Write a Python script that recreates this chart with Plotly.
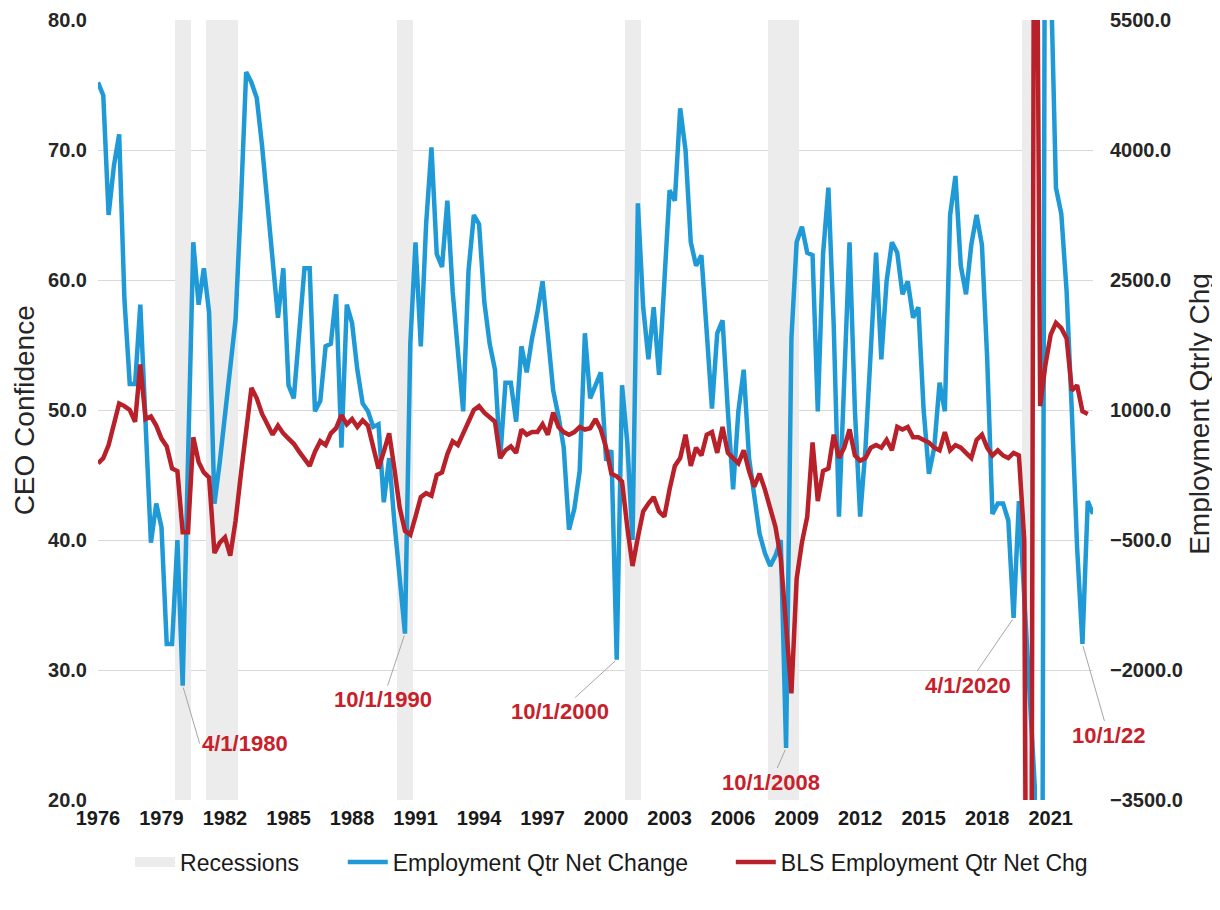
import pandas as pd
import plotly.graph_objects as go

# quarterly observations, first one is 4/1/1976
quarters = pd.date_range("1976-04-01", periods=189, freq="QS")

ceo_confidence = [
    75.2, 74.2, 65.0, 68.8, 71.2, 58.5, 52.0, 52.0, 58.1, 48.0,
    39.8, 42.8, 41.0, 32.0, 32.0, 40.0, 28.8, 46.0, 62.9, 58.1,
    60.9, 57.5, 42.8, 46.0, 49.5, 53.0, 57.0, 66.0, 76.0, 75.2,
    74.0, 70.3, 66.0, 61.5, 57.1, 60.9, 51.9, 50.9, 55.5, 60.9,
    60.9, 49.9, 50.7, 54.9, 55.1, 58.9, 47.1, 58.1, 56.7, 53.1,
    50.5, 49.9, 48.7, 48.9, 42.9, 46.3, 41.4, 37.4, 32.8, 55.1,
    62.9, 54.9, 64.3, 70.2, 62.0, 61.0, 66.1, 59.1, 54.5, 49.9,
    60.7, 65.0, 64.3, 58.3, 55.1, 53.1, 46.3, 52.1, 52.1, 49.1,
    54.9, 52.9, 55.5, 57.5, 59.9, 55.5, 51.5, 49.5, 47.1, 40.8,
    42.4, 45.3, 55.9, 50.9, 51.9, 52.9, 46.1, 46.9, 30.8, 51.9,
    47.5, 40.0, 65.9, 57.9, 53.9, 57.9, 52.7, 59.2, 66.9, 66.1,
    73.2, 70.0, 62.9, 61.1, 61.9, 56.0, 50.1, 55.9, 56.9, 49.9,
    43.9, 49.9, 53.1, 46.3, 43.7, 40.5, 39.0, 38.0, 38.8, 40.0,
    24.0, 55.5, 62.9, 64.1, 62.1, 61.9, 49.9, 62.0, 67.1, 56.5,
    41.8, 53.0, 62.9, 50.0, 41.8, 47.0, 55.0, 62.1, 53.9, 59.9,
    62.9, 62.1, 58.9, 59.9, 57.1, 57.9, 50.0, 45.1, 47.1, 52.1,
    49.9, 65.0, 68.0, 61.1, 58.9, 62.7, 65.0, 62.7, 54.0, 42.0,
    42.8, 42.8, 41.5, 34.0, 43.0, 36.0, 29.0, 21.0, -60.0, 110.0,
    84.0, 67.1, 65.1, 59.1, 49.9, 39.4, 32.0, 43.0, 42.0,
]

bls_net_chg = [
    385, 445, 595, 850, 1075, 1045, 1000, 865, 1525, 895,
    925, 820, 670, 580, 325, 295, -410, -410, 685, 400,
    280, 220, -650, -530, -470, -680, -275, 265, 745, 1255,
    1135, 955, 835, 715, 820, 730, 670, 610, 520, 430,
    355, 520, 640, 595, 730, 790, 940, 835, 895, 805,
    880, 820, 565, 325, 520, 730, 325, -125, -395, -440,
    -230, -5, 40, 10, 250, 280, 490, 640, 595, 745,
    865, 1000, 1045, 970, 925, 865, 445, 535, 580, 505,
    775, 715, 745, 745, 835, 715, 970, 805, 745, 715,
    745, 805, 775, 790, 895, 775, 565, 265, 235, 175,
    -350, -800, -470, -170, -80, -5, -170, -230, 85, 355,
    445, 715, 355, 565, 475, 715, 745, 505, 805, 505,
    445, 385, 535, 295, 115, 265, 85, -125, -350, -710,
    -1490, -2270, -950, -530, -230, 625, -50, 295, 325, 715,
    445, 565, 775, 475, 415, 445, 565, 595, 565, 655,
    535, 805, 775, 805, 685, 685, 655, 625, 565, 535,
    745, 535, 595, 565, 505, 445, 655, 715, 565, 475,
    535, 475, 445, 505, 475, -500, -14000, 11000, 1045, 1525,
    1870, 2005, 1945, 1825, 1225, 1285, 985, 955,
]

recession_quarters = [
    "1980-01-01", "1980-04-01", "1980-07-01",
    "1981-07-01", "1981-10-01", "1982-01-01", "1982-04-01", "1982-07-01", "1982-10-01",
    "1990-07-01", "1990-10-01", "1991-01-01",
    "2001-04-01", "2001-07-01", "2001-10-01",
    "2008-01-01", "2008-04-01", "2008-07-01", "2008-10-01", "2009-01-01", "2009-04-01",
    "2020-01-01", "2020-04-01",
]

# callouts: (date of the point, CEO confidence value, label, text offset px, text anchor)
callouts = [
    ("1980-04-01", 28.8, "4/1/1980", 17, 58, "left"),
    ("1990-10-01", 32.8, "10/1/1990", -22, 66, "center"),
    ("2000-10-01", 30.8, "10/1/2000", -57, 52, "center"),
    ("2008-10-01", 24.0, "10/1/2008", -15, 34, "center"),
    ("2019-07-01", 34.0, "4/1/2020", -46, 67, "center"),
    ("2022-10-01", 32.0, "10/1/22", 26, 91, "center"),
]

tick_dates = quarters[::12][:16]
tick_text = [str(d.year) for d in tick_dates]

BLUE = "#1f9ad6"
RED = "#b8202a"
GREY = "#ececec"
ARIAL = "Liberation Sans, Arial, sans-serif"

fig = go.Figure()

fig.add_trace(go.Bar(
    x=recession_quarters,
    y=[60] * len(recession_quarters),
    base=20,
    width=92 * 86400000,
    marker=dict(color=GREY, line=dict(width=0)),
    name="Recessions",
    yaxis="y",
    showlegend=False,
))

# legend key only: a wide grey patch like the spreadsheet's swatch
fig.add_trace(go.Scatter(
    x=[None], y=[None],
    mode="lines",
    line=dict(color=GREY, width=20),
    name="Recessions",
    legend="legend",
))

fig.add_trace(go.Scatter(
    x=quarters[:len(ceo_confidence)],
    y=ceo_confidence,
    mode="lines",
    line=dict(color=BLUE, width=4.5),
    name="Employment Qtr Net Change",
    yaxis="y",
    legend="legend2",
))

fig.add_trace(go.Scatter(
    x=quarters[:len(bls_net_chg)],
    y=bls_net_chg,
    mode="lines",
    line=dict(color=RED, width=4.5),
    name="BLS Employment Qtr Net Chg",
    yaxis="y2",
    legend="legend3",
))

for d, v, label, ax, ay, anchor in callouts:
    fig.add_annotation(
        x=d, y=v, xref="x", yref="y",
        text=label, showarrow=True, arrowhead=0, arrowwidth=1,
        arrowcolor="#a6a6a6", ax=ax, ay=ay, standoff=2, xanchor=anchor,
        font=dict(family=ARIAL, size=22, color="#c8202a", weight="bold"),
    )

fig.add_annotation(
    text="CEO Confidence", xref="paper", yref="paper", x=-0.074, y=0.5,
    xanchor="center", yanchor="middle",
    textangle=-90, showarrow=False,
    font=dict(family=ARIAL, size=28, color="#262626"),
)
fig.add_annotation(
    text="Employment Qtrly Chg", xref="paper", yref="paper", x=1.1075, y=0.495,
    xanchor="center", yanchor="middle",
    textangle=-90, showarrow=False,
    font=dict(family=ARIAL, size=28, color="#262626"),
)

legend_style = dict(
    orientation="h", y=-0.0795, yanchor="middle", xanchor="left",
    font=dict(family=ARIAL, size=23, color="#1a1a1a"),
    itemwidth=40, bgcolor="rgba(0,0,0,0)",
)

# the page is offset by the 8px body margin, so margins are trimmed by 8
fig.update_layout(
    template="none",
    width=1212, height=902,
    margin=dict(l=90, r=127, t=12, b=110, autoexpand=False),
    plot_bgcolor="white", paper_bgcolor="white",
    bargap=0,
    showlegend=True,
    legend=dict(legend_style, x=0.0322),
    legend2=dict(legend_style, x=0.246),
    legend3=dict(legend_style, x=0.636),
    xaxis=dict(
        range=[quarters[0], quarters[188]],
        tickvals=tick_dates, ticktext=tick_text,
        showgrid=False, zeroline=False, showline=False, ticks="",
        automargin=False, ticklabelstandoff=4,
        tickfont=dict(family=ARIAL, size=20, color="#1a1a1a", weight="bold"),
    ),
    yaxis=dict(
        range=[20, 80], tick0=20, dtick=10, tickformat=".1f",
        showgrid=True, gridcolor="#d9d9d9", gridwidth=1,
        zeroline=False, showline=False, ticks="",
        automargin=False, ticklabelstandoff=10,
        tickfont=dict(family=ARIAL, size=20, color="#262626", weight="bold"),
    ),
    yaxis2=dict(
        range=[-3500, 5500], tick0=-3500, dtick=1500, tickformat=".1f",
        overlaying="y", side="right",
        showgrid=False, zeroline=False, showline=False, ticks="",
        automargin=False, ticklabelstandoff=16,
        tickfont=dict(family=ARIAL, size=20, color="#262626", weight="bold"),
    ),
)

fig.write_html("out.html")
